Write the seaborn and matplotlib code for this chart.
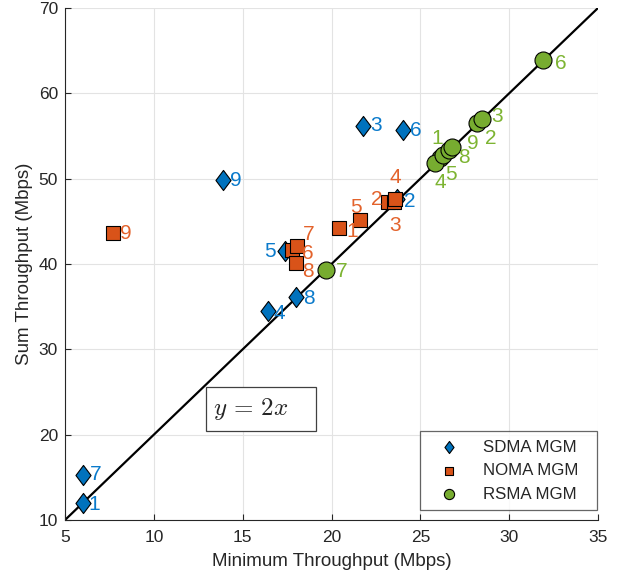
import numpy as np
import pandas as pd
import matplotlib
matplotlib.use("Agg")
import matplotlib.pyplot as plt
from matplotlib.path import Path
from matplotlib.patches import Rectangle
import seaborn as sns

# ---------------- data ----------------
labels = [1, 2, 3, 4, 5, 6, 7, 8, 9]

sdma_min = [6.0, 23.7, 21.8, 16.4, 17.4, 24.0, 6.0, 18.0, 13.9]
sdma_sum = [12.0, 47.6, 56.2, 34.5, 41.5, 55.7, 15.3, 36.1, 49.9]

noma_min = [20.4, 23.2, 23.5, 23.6, 21.6, 17.8, 18.05, 18.0, 7.7]
noma_sum = [44.2, 47.3, 47.3, 47.6, 45.2, 41.6, 42.1, 40.1, 43.6]

rsma_min = [26.1, 28.2, 28.45, 25.8, 26.3, 31.9, 19.7, 26.6, 26.8]
rsma_sum = [52.4, 56.5, 57.0, 51.8, 52.8, 63.9, 39.3, 53.4, 53.7]

schemes = ["SDMA MGM", "NOMA MGM", "RSMA MGM"]
ref_x = [5, 35]

# ---------------- style ----------------
sns.set_style("whitegrid")
plt.rcParams["font.family"] = ["Liberation Sans", "DejaVu Sans"]
plt.rcParams["mathtext.fontset"] = "cm"

blue = "#0072BD"
orange = "#D95319"
green = "#77AC30"
txt_blue = "#0A7ACB"
txt_orange = "#E3622B"
txt_green = "#7DB432"

diamond = Path([(0, 1), (0.75, 0), (0, -1), (-0.75, 0), (0, 1)],
               [Path.MOVETO, Path.LINETO, Path.LINETO, Path.LINETO, Path.CLOSEPOLY])

fig = plt.figure(figsize=(6.24, 5.8), dpi=100)
ax = fig.add_axes([65 / 624, 1 - 520 / 580, 533 / 624, 512 / 580])

# reference line y = 2x
ax.plot(ref_x, [2 * v for v in ref_x], color="black", lw=1.6, zorder=2)

df = pd.concat([
    pd.DataFrame({"min": sdma_min, "sum": sdma_sum, "scheme": schemes[0], "lab": labels}),
    pd.DataFrame({"min": noma_min, "sum": noma_sum, "scheme": schemes[1], "lab": labels}),
    pd.DataFrame({"min": rsma_min, "sum": rsma_sum, "scheme": schemes[2], "lab": labels}),
], ignore_index=True)

sizes = {schemes[0]: 210, schemes[1]: 90, schemes[2]: 150}
markers = {schemes[0]: diamond, schemes[1]: "s", schemes[2]: "o"}
colors = {schemes[0]: blue, schemes[1]: orange, schemes[2]: green}

for sch in schemes:
    sub = df[df["scheme"] == sch]
    sns.scatterplot(data=sub, x="min", y="sum", ax=ax, marker=markers[sch],
                    s=sizes[sch], color=colors[sch], edgecolor="black",
                    linewidth=0.8, label=sch, zorder=3)

# label offsets in pixels (dx, dy, ha)
off_sdma = {1: (6, -2, "left"), 2: (7, -2, "left"), 3: (7, 0, "left"), 4: (6, -3, "left"),
            5: (-10, 0, "right"), 6: (7, 0, "left"), 7: (7, 0, "left"), 8: (7, -1, "left"),
            9: (7, -1, "left")}
off_noma = {1: (8, -3, "left"), 2: (-6, 2, "right"), 3: (1, -24, "center"), 4: (0, 22, "center"),
            5: (-4, 12, "center"), 6: (10, -3, "left"), 7: (6, 12, "left"), 8: (6, -8, "left"),
            9: (7, 0, "left")}
off_rsma = {1: (-3, 20, "center"), 2: (8, -15, "left"), 3: (10, 2, "left"), 4: (0, -19, "left"),
            5: (2, -20, "left"), 6: (12, -3, "left"), 7: (10, -2, "left"), 8: (9, -8, "left"),
            9: (15, 4, "left")}

for xs, ys, offs, tc in [(sdma_min, sdma_sum, off_sdma, txt_blue),
                         (noma_min, noma_sum, off_noma, txt_orange),
                         (rsma_min, rsma_sum, off_rsma, txt_green)]:
    for lab, xv, yv in zip(labels, xs, ys):
        dx, dy, ha = offs[lab]
        ax.annotate(str(lab), (xv, yv), xytext=(dx, dy), textcoords="offset pixels",
                    ha=ha, va="center", fontsize=15, color=tc, zorder=4)

# y = 2x text box
ax.add_patch(Rectangle((12.94, 20.43), 19.11 - 12.94, 25.62 - 20.43, facecolor="white",
                       edgecolor="#404040", lw=0.9, zorder=5))
ax.text(13.35, 23.0, r"$y\,=\,2x$", fontsize=18, ha="left", va="center", zorder=6)

ax.set_xlim(5, 35)
ax.set_ylim(10, 70)
ax.set_xticks([5, 10, 15, 20, 25, 30, 35])
ax.set_yticks([10, 20, 30, 40, 50, 60, 70])
ax.set_xlabel("Minimum Throughput (Mbps)", fontsize=13.5, color="#262626", labelpad=6)
ax.set_ylabel("Sum Throughput (Mbps)", fontsize=13.5, color="#262626", labelpad=4)
ax.tick_params(axis="x", pad=7)
ax.tick_params(axis="y", pad=5)
ax.tick_params(axis="both", direction="in", length=4, width=0.8, colors="#262626",
               labelsize=12.5, bottom=True, left=True)
ax.grid(True, color="#e3e3e3", lw=0.8)
for side in ["top", "right"]:
    ax.spines[side].set_visible(False)
for side in ["left", "bottom"]:
    ax.spines[side].set_color("#262626")
    ax.spines[side].set_linewidth(0.8)

leg = ax.legend(loc="lower left", bbox_to_anchor=((420 - 65) / 533, 10 / 512, 177 / 533, 0.15),
                mode="expand", fontsize=12.2, frameon=True, fancybox=False, markerscale=0.6,
                borderpad=0.5, handlelength=2.4, handletextpad=0.8, labelspacing=0.5,
                borderaxespad=0)
leg.get_frame().set_edgecolor("#404040")
leg.get_frame().set_linewidth(0.9)
leg.set_zorder(7)

fig.savefig("out.png", dpi=100)
